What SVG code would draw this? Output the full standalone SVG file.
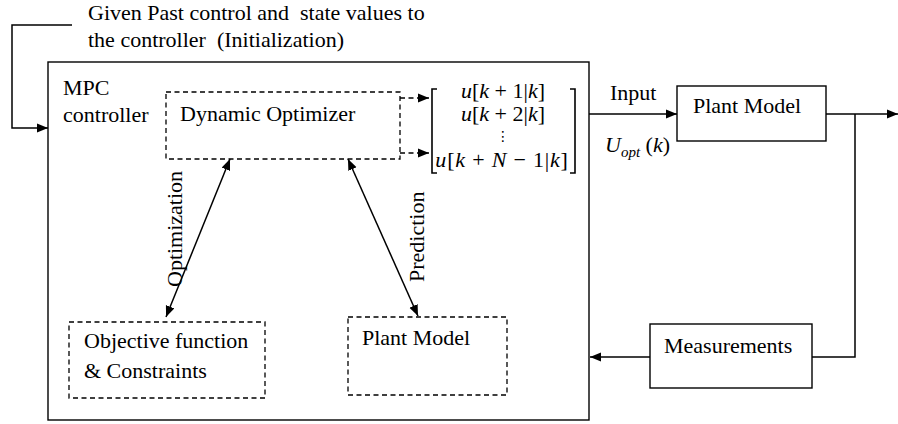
<svg xmlns="http://www.w3.org/2000/svg" width="898" height="424" viewBox="0 0 898 424">
<defs>
<marker id="ah" markerUnits="userSpaceOnUse" markerWidth="12" markerHeight="10" refX="11" refY="5" orient="auto-start-reverse">
<path d="M0,0.5 L11,5 L0,9.5 z" fill="#000"/>
</marker>
<style>
.t{font-family:"Liberation Serif","Times New Roman",serif;font-size:22px;fill:#000}
.m{font-family:"Liberation Serif","Times New Roman",serif;font-size:22px;fill:#000}
.i{font-style:italic}
.pre{white-space:pre}
.box{fill:none;stroke:#000;stroke-width:1.4}
.dbox{fill:none;stroke:#000;stroke-width:1.3;stroke-dasharray:5,3.5}
.ln{fill:none;stroke:#000;stroke-width:1.5}
.dl{fill:none;stroke:#000;stroke-width:1.3;stroke-dasharray:5,3.5}
</style>
</defs>
<rect width="898" height="424" fill="#fff"/>

<g id="init-label">
<text class="t pre" x="88" y="20" xml:space="preserve">Given Past control and  state values to</text>
<text class="t pre" x="88" y="47" xml:space="preserve">the controller  (Initialization)</text>
</g>

<g id="mpc-controller">
<rect class="box" x="48" y="62" width="541" height="358"/>
<text class="t" x="63" y="95">MPC</text>
<text class="t" x="63" y="122">controller</text>
</g>

<g id="dynamic-optimizer">
<rect class="dbox" x="166" y="92" width="234" height="67"/>
<text class="t" x="180" y="121">Dynamic Optimizer</text>
</g>

<g id="control-vector">
<path d="M437,89 L432,89 L432,173 L437,173 M570,89 L575,89 L575,173 L570,173" fill="none" stroke="#000" stroke-width="1.6"/>
<text class="m" x="503" y="98" text-anchor="middle"><tspan class="i">u</tspan>[<tspan class="i">k</tspan> + 1|<tspan class="i">k</tspan>]</text>
<text class="m" x="503" y="121" text-anchor="middle"><tspan class="i">u</tspan>[<tspan class="i">k</tspan> + 2|<tspan class="i">k</tspan>]</text>
<text x="503" y="141" text-anchor="middle" style="font-family:'DejaVu Sans',sans-serif;font-size:14px">⋮</text>
<text class="m" x="502" y="167" text-anchor="middle" style="letter-spacing:0.8px"><tspan class="i">u</tspan>[<tspan class="i">k</tspan> + <tspan class="i">N</tspan> − 1|<tspan class="i">k</tspan>]</text>
</g>

<g id="objective-function">
<rect class="dbox" x="69" y="322" width="196" height="76"/>
<text class="t" x="84" y="348">Objective function</text>
<text class="t" x="84" y="378">&amp; Constraints</text>
</g>

<g id="internal-plant-model">
<rect class="dbox" x="348" y="317" width="159" height="78"/>
<text class="t" x="362" y="345">Plant Model</text>
</g>

<g id="plant-model">
<rect class="box" x="677" y="86" width="149" height="55"/>
<text class="t" x="693" y="113">Plant Model</text>
</g>

<g id="measurements">
<rect class="box" x="650" y="324" width="162" height="64"/>
<text class="t" x="664" y="353">Measurements</text>
</g>

<g id="connectors">
<polyline class="ln" points="72,25 12,25 12,128 48,128" marker-end="url(#ah)"/>
<line class="dl" x1="400" y1="98" x2="429" y2="98" marker-end="url(#ah)"/>
<line class="dl" x1="400" y1="153" x2="429" y2="153" marker-end="url(#ah)"/>
<line class="ln" x1="230" y1="159" x2="166" y2="317" marker-start="url(#ah)" marker-end="url(#ah)"/>
<line class="ln" x1="348" y1="159" x2="418" y2="316" marker-start="url(#ah)" marker-end="url(#ah)"/>
<line class="ln" x1="589" y1="114" x2="677" y2="114" marker-end="url(#ah)"/>
<line class="ln" x1="826" y1="114" x2="898" y2="114" marker-end="url(#ah)"/>
<polyline class="ln" points="855,114 855,357 812,357"/>
<line class="ln" x1="650" y1="357" x2="590" y2="357" marker-end="url(#ah)"/>
<text class="t" transform="translate(182,287) rotate(-90)">Optimization</text>
<text class="t" transform="translate(424,282) rotate(-90)">Prediction</text>
<text class="t" x="610" y="100">Input</text>
<text class="m" x="605" y="152"><tspan class="i">U</tspan><tspan class="i" dy="5" style="font-size:15px">opt</tspan><tspan dy="-5"> (</tspan><tspan class="i">k</tspan>)</text>
</g>
</svg>
